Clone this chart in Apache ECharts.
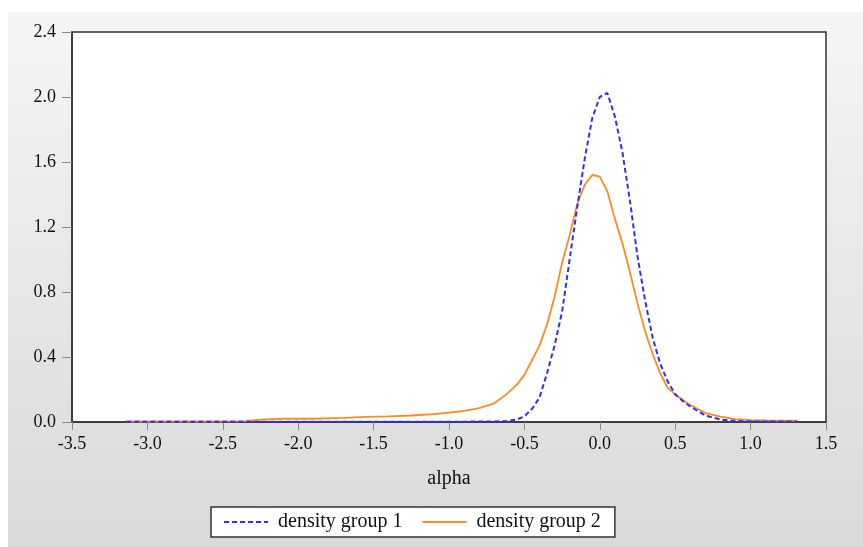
<!DOCTYPE html>
<html>
<head>
<meta charset="utf-8">
<script src="https://cdn.jsdelivr.net/npm/echarts@6/dist/echarts.min.js"></script>
<style>
  html, body { margin: 0; padding: 0; background: #fff; }
  #chart { width: 863px; height: 547px; }
</style>
</head>
<body>
<div id="chart"></div>
<script>
const alphaX = [-3.14, -2.6, -2.35, -2.25, -2.1, -1.9, -1.7, -1.55, -1.4, -1.25, -1.1, -1.0, -0.9, -0.8, -0.7, -0.62,
    -0.55, -0.5, -0.45, -0.4, -0.35, -0.3, -0.25, -0.2, -0.15, -0.1, -0.05, 0.0, 0.05, 0.1, 0.15, 0.2, 0.25, 0.3,
    0.35, 0.4, 0.45, 0.5, 0.55, 0.6, 0.7, 0.8, 0.9, 1.0, 1.1, 1.2, 1.31];

const group1 = [0.002, 0.002, 0.002, 0.002, 0.002, 0.002, 0.002, 0.002, 0.002, 0.002, 0.002, 0.002, 0.002, 0.003, 0.003, 0.006,
    0.015, 0.035, 0.08, 0.15, 0.3, 0.47, 0.68, 1.0, 1.32, 1.62, 1.87, 2.0, 2.025, 1.88, 1.66, 1.36, 1.02, 0.75,
    0.52, 0.36, 0.25, 0.17, 0.13, 0.095, 0.04, 0.015, 0.006, 0.004, 0.003, 0.003, 0.003];

const group2 = [0.003, 0.003, 0.005, 0.015, 0.02, 0.02, 0.025, 0.032, 0.034, 0.04, 0.048, 0.058, 0.068, 0.085, 0.115, 0.17,
    0.23, 0.29, 0.38, 0.47, 0.6, 0.77, 0.98, 1.15, 1.34, 1.46, 1.52, 1.51, 1.42, 1.25, 1.1, 0.92, 0.73, 0.56,
    0.42, 0.3, 0.21, 0.17, 0.135, 0.105, 0.055, 0.033, 0.018, 0.012, 0.01, 0.009, 0.009];

const seriesNames = ['density group 1', 'density group 2'];

const serif = 'Liberation Serif';

const pairs = (xs, ys) => xs.map((x, i) => [x, ys[i]]);

const getOption = () => {
    return {
        animation: false,
        graphic: [{
            type: 'rect',
            z: -10,
            shape: { x: 8, y: 12, width: 855, height: 535 },
            style: {
                fill: new echarts.graphic.LinearGradient(0, 0, 0, 1, [
                    { offset: 0, color: '#f5f5f5' },
                    { offset: 1, color: '#d9d9d9' }
                ])
            }
        }],
        grid: {
            left: 72,
            top: 32,
            right: 37,
            bottom: 125,
            show: true,
            backgroundColor: '#ffffff',
            borderColor: '#333333',
            borderWidth: 1.5
        },
        legend: {
            data: seriesNames,
            left: 211,
            top: 507,
            padding: [5, 14, 5, 12],
            itemGap: 19,
            itemWidth: 44,
            itemHeight: 12,
            itemStyle: { opacity: 0 },
            backgroundColor: '#ffffff',
            borderColor: '#333333',
            borderWidth: 1.5,
            textStyle: {
                color: '#111',
                fontFamily: serif,
                fontSize: 20,
                padding: [0, 0, 0, 5]
            }
        },
        xAxis: {
            type: 'value',
            min: -3.5,
            max: 1.5,
            interval: 0.5,
            name: 'alpha',
            nameLocation: 'middle',
            nameGap: 47,
            nameTextStyle: {
                color: '#111',
                fontFamily: serif,
                fontSize: 20
            },
            axisLine: { onZero: false, lineStyle: { color: '#333', width: 1.5 } },
            axisTick: { length: 8, lineStyle: { color: '#888' } },
            splitLine: { show: false },
            axisLabel: {
                margin: 13,
                color: '#111',
                fontFamily: serif,
                fontSize: 18,
                formatter: v => v.toFixed(1)
            }
        },
        yAxis: {
            type: 'value',
            min: 0,
            max: 2.4,
            interval: 0.4,
            axisLine: { show: true, onZero: false, lineStyle: { color: '#333', width: 1.5 } },
            axisTick: { show: true, length: 10, lineStyle: { color: '#888' } },
            splitLine: { show: false },
            axisLabel: {
                margin: 16,
                color: '#111',
                fontFamily: serif,
                fontSize: 18,
                formatter: v => v.toFixed(1)
            }
        },
        series: [
            {
                name: seriesNames[0],
                type: 'line',
                symbol: 'none',
                z: 3,
                color: '#2f2ff5',
                lineStyle: { color: '#2f2ff5', width: 2, type: [5, 3] },
                data: pairs(alphaX, group1)
            },
            {
                name: seriesNames[1],
                type: 'line',
                symbol: 'none',
                z: 2,
                color: '#ff8a1f',
                lineStyle: { color: '#ff8a1f', width: 1.8 },
                data: pairs(alphaX, group2)
            }
        ]
    };
};

window.addEventListener('load', () => {
    const chart = echarts.init(document.getElementById('chart'));
    chart.setOption(getOption());
});
</script>
</body>
</html>
